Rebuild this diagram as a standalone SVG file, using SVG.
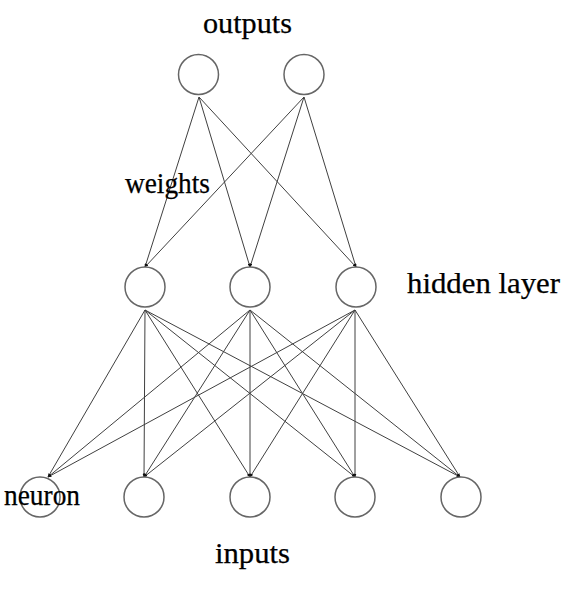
<svg xmlns="http://www.w3.org/2000/svg" width="561" height="589" viewBox="0 0 561 589">
  <style>
    .node { fill: #ffffff; stroke: #666666; stroke-width: 1.5; }
    .edge { stroke: #404040; stroke-width: 1; fill: none; marker-end: url(#tip); }
    .label { font-family: "Liberation Serif", "Times New Roman", serif; font-size: 30px; fill: #000000; stroke: #000000; stroke-width: 0.25; }
  </style>
  <defs>
    <marker id="tip" markerWidth="4" markerHeight="3" refX="3.5" refY="1.5" orient="auto" markerUnits="userSpaceOnUse">
      <path d="M0,0 L4,1.5 L0,3 Z" fill="#111111"/>
    </marker>
  </defs>
  <rect width="561" height="589" fill="#ffffff"/>

  <!-- connectors: output layer to hidden layer, hidden layer to inputs -->
  <g id="connectors">
    <line class="edge" x1="199" y1="97" x2="145" y2="267"/>
    <line class="edge" x1="199" y1="97" x2="250" y2="267"/>
    <line class="edge" x1="199" y1="97" x2="356" y2="267"/>
    <line class="edge" x1="304" y1="97" x2="145" y2="267"/>
    <line class="edge" x1="304" y1="97" x2="250" y2="267"/>
    <line class="edge" x1="304" y1="97" x2="356" y2="267"/>

    <line class="edge" x1="145" y1="310" x2="48" y2="477"/>
    <line class="edge" x1="145" y1="310" x2="144" y2="477"/>
    <line class="edge" x1="145" y1="310" x2="250" y2="477"/>
    <line class="edge" x1="145" y1="310" x2="355" y2="477"/>
    <line class="edge" x1="145" y1="310" x2="460" y2="477"/>

    <line class="edge" x1="250" y1="310" x2="48" y2="477"/>
    <line class="edge" x1="250" y1="310" x2="144" y2="477"/>
    <line class="edge" x1="250" y1="310" x2="250" y2="477"/>
    <line class="edge" x1="250" y1="310" x2="355" y2="477"/>
    <line class="edge" x1="250" y1="310" x2="460" y2="477"/>

    <line class="edge" x1="355" y1="310" x2="48" y2="477"/>
    <line class="edge" x1="355" y1="310" x2="144" y2="477"/>
    <line class="edge" x1="355" y1="310" x2="250" y2="477"/>
    <line class="edge" x1="355" y1="310" x2="355" y2="477"/>
    <line class="edge" x1="355" y1="310" x2="460" y2="477"/>
  </g>

  <!-- output layer -->
  <g id="out1"><circle class="node" cx="198.5" cy="74.5" r="20"/></g>
  <g id="out2"><circle class="node" cx="304" cy="74.5" r="20"/></g>

  <!-- hidden layer -->
  <g id="hid1"><circle class="node" cx="145" cy="287" r="20"/></g>
  <g id="hid2"><circle class="node" cx="250" cy="287" r="20"/></g>
  <g id="hid3"><circle class="node" cx="356" cy="287" r="20"/></g>

  <!-- input layer -->
  <g id="in1"><circle class="node" cx="40" cy="497" r="20"/></g>
  <g id="in2"><circle class="node" cx="144" cy="497" r="20"/></g>
  <g id="in3"><circle class="node" cx="250" cy="497" r="20"/></g>
  <g id="in4"><circle class="node" cx="355" cy="497" r="20"/></g>
  <g id="in5"><circle class="node" cx="461" cy="497" r="20"/></g>

  <!-- labels -->
  <g id="labels">
    <text class="label" x="203" y="33" textLength="89" lengthAdjust="spacingAndGlyphs">outputs</text>
    <text class="label" x="125" y="193" textLength="85" lengthAdjust="spacingAndGlyphs">weights</text>
    <text class="label" x="407" y="293" textLength="153" lengthAdjust="spacingAndGlyphs">hidden layer</text>
    <text class="label" x="4" y="505" textLength="76" lengthAdjust="spacingAndGlyphs">neuron</text>
    <text class="label" x="215" y="563" textLength="75" lengthAdjust="spacingAndGlyphs">inputs</text>
  </g>
</svg>
